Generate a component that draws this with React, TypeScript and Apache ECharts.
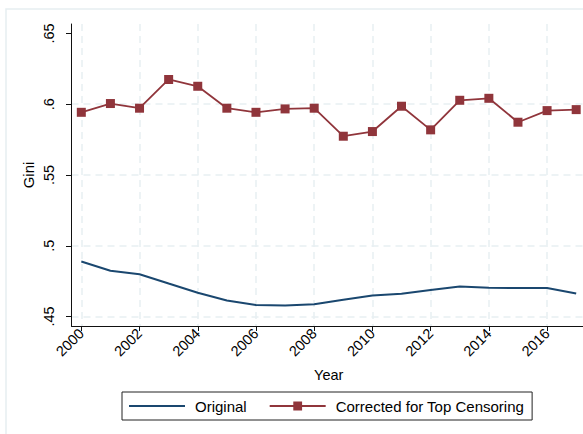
import React, { useEffect, useRef } from "react";
import * as echarts from "echarts";

const years = [2000, 2001, 2002, 2003, 2004, 2005, 2006, 2007, 2008, 2009, 2010, 2011, 2012, 2013, 2014, 2015, 2016, 2017];
const original = [0.4889, 0.4823, 0.4799, 0.4733, 0.4668, 0.4613, 0.4581, 0.4578, 0.4586, 0.4618, 0.4649, 0.4661, 0.4687, 0.4712, 0.4703, 0.4701, 0.4701, 0.4662];
const corrected = [0.5943, 0.6005, 0.5972, 0.6175, 0.6127, 0.5972, 0.5943, 0.5967, 0.5972, 0.5774, 0.5807, 0.5986, 0.5819, 0.6028, 0.6042, 0.5873, 0.5955, 0.5962];
const xTickYears = [2000, 2002, 2004, 2006, 2008, 2010, 2012, 2014, 2016];
const yTicks = [0.45, 0.5, 0.55, 0.6, 0.65];

const FONT = "'Liberation Sans', Arial, sans-serif";
const GRID = "#e8f0f2";

export default function App() {
  const ref = useRef<HTMLDivElement>(null);
  useEffect(() => {
    const chart = echarts.init(ref.current!, null, { renderer: "svg" });
    chart.setOption({
      animation: false,
      backgroundColor: "#fff",
      textStyle: { fontFamily: FONT },
      graphic: [
        {
          type: "rect",
          silent: true,
          z: -10,
          shape: { x: 6, y: 9, width: 700, height: 600 },
          style: { fill: "none", stroke: "#e6eef1", lineWidth: 1.5 },
        },
      ],
      grid: { left: 71.5, top: 24, right: 14, bottom: 108, containLabel: false },
      xAxis: {
        type: "value",
        min: 1999.663,
        max: 2017.337,
        name: "Year",
        nameLocation: "middle",
        nameGap: 41,
        nameMoveOverlap: false,
        nameTextStyle: { fontSize: 14.5, color: "#000", fontFamily: FONT },
        axisLine: { show: true, lineStyle: { color: "#111", width: 1 } },
        axisTick: { show: true, customValues: xTickYears, length: 5, lineStyle: { color: "#111", width: 1 } },
        axisLabel: {
          customValues: xTickYears,
          rotate: 45,
          fontSize: 14.5,
          color: "#000",
          margin: 5,
          fontFamily: FONT,
          formatter: (v: number) => String(Math.round(v)),
        },
        splitLine: { show: true, lineStyle: { color: GRID, type: [7, 5], width: 1.5 } },
      },
      yAxis: {
        type: "value",
        min: 0.4433,
        max: 0.6567,
        name: "Gini",
        nameLocation: "middle",
        nameGap: 36,
        nameMoveOverlap: false,
        nameRotate: 90,
        nameTextStyle: { fontSize: 15, color: "#000", fontFamily: FONT },
        axisLine: { show: true, lineStyle: { color: "#111", width: 1 } },
        axisTick: { show: true, customValues: yTicks, length: 5.5, lineStyle: { color: "#111", width: 1 } },
        axisLabel: {
          customValues: yTicks,
          rotate: 90,
          fontSize: 14.5,
          color: "#000",
          margin: 15,
          fontFamily: FONT,
          formatter: (v: number) => v.toFixed(2).replace(/0$/, "").replace(/^0/, ""),
        },
        splitLine: {
          show: true,
          lineStyle: { color: [GRID, GRID, GRID, GRID, "rgba(0,0,0,0)"], type: [7, 5], width: 1.5 },
        },
      },
      legend: {
        left: 122,
        top: 392,
        orient: "horizontal",
        padding: [5, 8, 5, 6],
        borderColor: "#222",
        borderWidth: 1,
        itemWidth: 56,
        itemHeight: 11,
        itemGap: 22,
        textStyle: { fontSize: 15, color: "#000", fontFamily: FONT, lineHeight: 18, padding: [0, 0, 0, 5] },
        data: [
          { name: "Original", itemStyle: { opacity: 0 } },
          { name: "Corrected for Top Censoring" },
        ],
      },
      series: [
        {
          name: "Original",
          type: "line",
          symbol: "none",
          data: years.map((y, i) => [y, original[i]]),
          lineStyle: { color: "#1a476f", width: 2 },
          itemStyle: { color: "#1a476f" },
        },
        {
          name: "Corrected for Top Censoring",
          type: "line",
          symbol: "rect",
          symbolSize: 9,
          data: years.map((y, i) => [y, corrected[i]]),
          lineStyle: { color: "#90353b", width: 1.8 },
          itemStyle: { color: "#90353b" },
        },
      ],
    });
    return () => chart.dispose();
  }, []);
  return (
    <div
      style={{
        position: "fixed",
        left: 0,
        top: 0,
        width: 583,
        height: 434,
        overflow: "hidden",
        background: "#fff",
      }}
    >
      <div ref={ref} style={{ width: 600, height: 434 }} />
    </div>
  );
}
